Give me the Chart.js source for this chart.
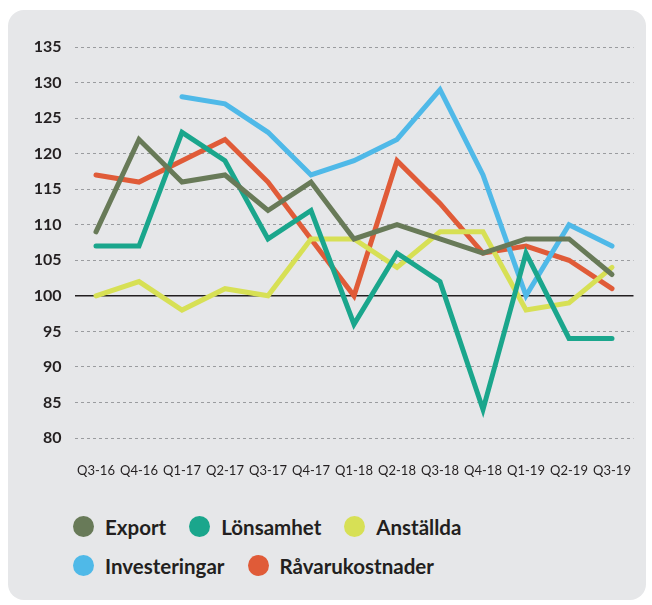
<!DOCTYPE html>
<html>
<head>
<meta charset="utf-8">
<script src="https://cdn.jsdelivr.net/npm/chart.js@4"></script>
<style>
    html, body { margin: 0; padding: 0; background: #ffffff; }
    #panel {
        position: absolute;
        left: 8px; top: 10px;
        width: 638px; height: 590px;
        background: #e6e7e9;
        border-radius: 16px;
    }
    #chartBox {
        position: absolute;
        left: 0; top: 0;
        width: 638px; height: 480px;
    }
    #legend {
        position: absolute;
        left: 65px; top: 497px;
        font-family: Lato, sans-serif;
        font-weight: bold;
        font-size: 20.5px;
        color: #231f20;
    }
    .legend-row { display: flex; align-items: center; height: 39px; }
    .legend-item { display: flex; align-items: center; margin-right: 23px; }
    .legend-dot { width: 21px; height: 21px; border-radius: 50%; margin-right: 11px; }
</style>
</head>
<body>
<div id="panel">
    <div id="chartBox"><canvas id="indexChart"></canvas></div>
    <div id="legend"></div>
</div>
<script>
// Quarters on the x axis
const quarters = ['Q3-16', 'Q4-16', 'Q1-17', 'Q2-17', 'Q3-17', 'Q4-17', 'Q1-18',
    'Q2-18', 'Q3-18', 'Q4-18', 'Q1-19', 'Q2-19', 'Q3-19'];

// Index values per series (100 = neutral)
const exportValues = [109, 122, 116, 117, 112, 116, 108, 110, 108, 106, 108, 108, 103];
const lonsamhetValues = [107, 107, 123, 119, 108, 112, 96, 106, 102, 84, 106, 94, 94];
const anstalldaValues = [100, 102, 98, 101, 100, 108, 108, 104, 109, 109, 98, 99, 104];
const investeringarValues = [null, null, 128, 127, 123, 117, 119, 122, 129, 117, 100, 110, 107];
const ravarukostnaderValues = [117, 116, 119, 122, 116, 108, 100, 119, 113, 106, 107, 105, 101];

// Y axis range and step
const yMin = 80;
const yMax = 135;
const yStep = 5;

const seriesNames = ['Export', 'Lönsamhet', 'Anställda', 'Investeringar', 'Råvarukostnader'];
const seriesColors = ['#687a58', '#1aa68c', '#d7e055', '#4fb9e8', '#e05b38'];
const seriesValues = [exportValues, lonsamhetValues, anstalldaValues, investeringarValues, ravarukostnaderValues];

const datasets = seriesNames.map((name, i) => ({
    label: name,
    data: seriesValues[i],
    borderColor: seriesColors[i],
    backgroundColor: seriesColors[i],
    borderWidth: 5,
    borderCapStyle: 'round',
    borderJoinStyle: 'miter',
    pointRadius: 0,
    tension: 0,
    spanGaps: false
}));

// the 100 line is solid black, the rest dashed grey
const isBase = (c) => c.tick && c.tick.value === 100;

const ctx = document.getElementById('indexChart').getContext('2d');
const chart = new Chart(ctx, {
    type: 'line',
    data: { labels: quarters, datasets: datasets },
    options: {
        responsive: true,
        maintainAspectRatio: false,
        animation: false,
        layout: { padding: { top: 37, right: 12.5, bottom: 0, left: 0 } },
        plugins: {
            legend: { display: false },
            tooltip: { enabled: false }
        },
        scales: {
            x: {
                offset: true,
                grid: { display: false, drawTicks: false },
                border: { display: false },
                ticks: {
                    color: '#231f20',
                    font: { family: 'Lato', size: 13 },
                    padding: 25,
                    maxRotation: 0,
                    autoSkip: false
                },
                afterFit: (scale) => {
                    scale.height = 52;
                    // labels sit inside the offset, no extra side padding needed
                    scale.paddingLeft = 0;
                    scale.paddingRight = 0;
                }
            },
            y: {
                min: yMin,
                max: yMax,
                grid: {
                    drawTicks: false,
                    lineWidth: (c) => isBase(c) ? 1.5 : 1,
                    color: (c) => isBase(c) ? '#231f20' : '#9a9c9f'
                },
                border: { display: false, dash: (c) => isBase(c) ? [] : [3, 3] },
                ticks: {
                    stepSize: yStep,
                    color: '#231f20',
                    font: { family: 'Lato', size: 16, weight: 'bold' },
                    padding: 13
                },
                afterFit: (scale) => { scale.width = 66.5; }
            }
        }
    }
});

// Legend built from the datasets, 3 + 2 items per row
const legendRows = [[0, 1, 2], [3, 4]];
const legendEl = document.getElementById('legend');
legendRows.forEach(row => {
    const rowEl = document.createElement('div');
    rowEl.className = 'legend-row';
    row.forEach(i => {
        const ds = chart.data.datasets[i];
        const item = document.createElement('div');
        item.className = 'legend-item';
        const dot = document.createElement('span');
        dot.className = 'legend-dot';
        dot.style.background = ds.borderColor;
        const text = document.createElement('span');
        text.textContent = ds.label;
        item.appendChild(dot);
        item.appendChild(text);
        rowEl.appendChild(item);
    });
    legendEl.appendChild(rowEl);
});
</script>
</body>
</html>
